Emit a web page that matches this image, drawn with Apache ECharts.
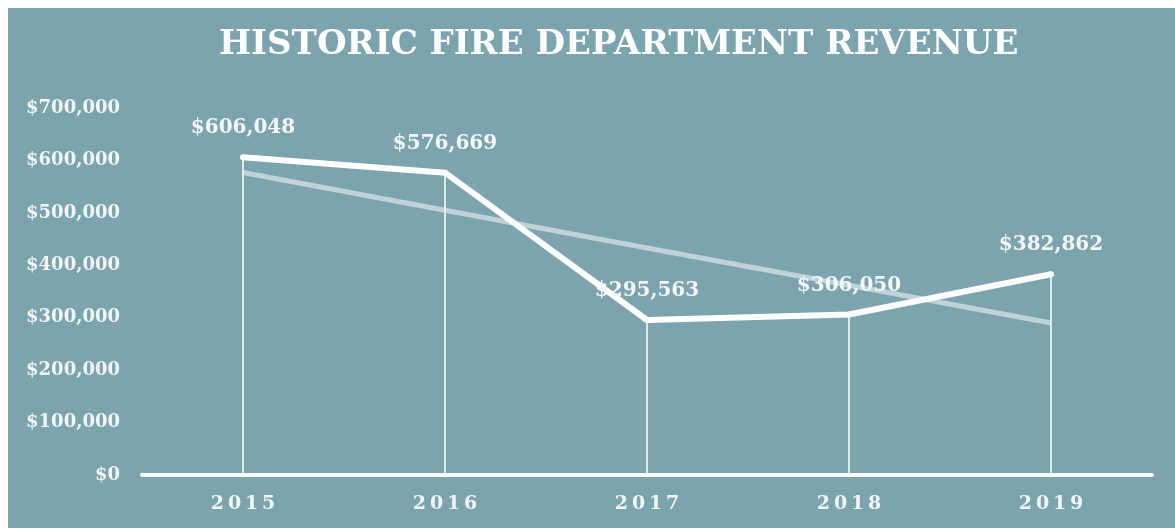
<!DOCTYPE html>
<html>
<head>
<meta charset="utf-8">
<script src="https://cdn.jsdelivr.net/npm/echarts@6/dist/echarts.min.js"></script>
<style>
html,body{margin:0;padding:0;background:#ffffff;width:1175px;height:531px;overflow:hidden;}
#c{position:absolute;left:8px;top:8px;width:1167px;height:520px;}
</style>
</head>
<body>
<div id="c"></div>
<script>
var titleText = 'HISTORIC FIRE DEPARTMENT REVENUE';
var years = ['2015', '2016', '2017', '2018', '2019'];
var revenue = [606048, 576669, 295563, 306050, 382862];
var trend = [577000, 505000, 433000, 362000, 290000];
var yTicks = [0, 100000, 200000, 300000, 400000, 500000, 600000, 700000];

function money(v){
  return '$' + Math.round(v).toString().replace(/\B(?=(\d{3})+(?!\d))/g, ',');
}

var serif = '"DejaVu Serif", "Liberation Serif", serif';
var chart = echarts.init(document.getElementById('c'));
chart.setOption({
  backgroundColor: '#7ba4ae',
  animation: false,
  title: {
    text: titleText,
    left: 206,
    top: 15,
    textStyle: {color: '#ffffff', fontFamily: serif, fontWeight: 'bold', fontSize: 34}
  },
  grid: {left: 134, right: 23, top: 100, bottom: 53},
  xAxis: {
    type: 'category',
    data: years,
    boundaryGap: true,
    axisLine: {lineStyle: {color: '#ffffff', width: 4}},
    axisTick: {show: false},
    axisLabel: {color: '#f2f5f5', fontFamily: serif, fontWeight: 'bold', fontSize: 19, margin: 20,
      formatter: function(v){ return v.split('').join('\u2009'); }}
  },
  yAxis: {
    type: 'value',
    min: yTicks[0],
    max: yTicks[yTicks.length - 1],
    interval: 100000,
    splitLine: {show: false},
    axisLine: {show: false},
    axisTick: {show: false},
    axisLabel: {color: '#f2f5f5', fontFamily: serif, fontWeight: 'bold', fontSize: 18, margin: 22,
      formatter: function(v){ return money(v); }}
  },
  series: [
    {
      type: 'bar',
      data: revenue,
      barWidth: 2,
      itemStyle: {color: 'rgba(255,255,255,0.75)'},
      silent: true,
      z: 1
    },
    {
      type: 'line',
      data: trend,
      symbol: 'none',
      lineStyle: {color: 'rgba(235,242,244,0.6)', width: 5},
      z: 2
    },
    {
      type: 'line',
      data: revenue,
      symbol: 'circle',
      symbolSize: 6,
      itemStyle: {color: '#ffffff'},
      lineStyle: {color: '#ffffff', width: 6},
      label: {
        show: true,
        position: 'top',
        distance: 16,
        color: '#f4f7f7',
        fontFamily: serif,
        fontWeight: 'bold',
        fontSize: 20,
        formatter: function(p){ return money(p.value); }
      },
      z: 3
    }
  ]
});
</script>
</body>
</html>
